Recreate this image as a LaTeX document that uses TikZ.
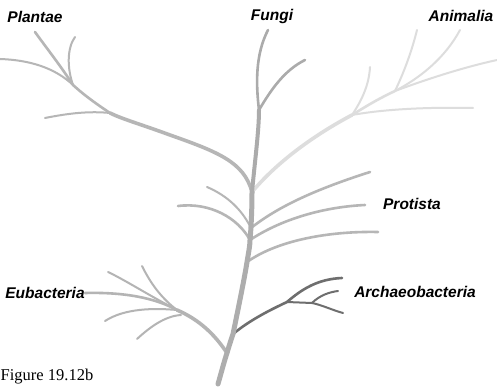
\documentclass[tikz,border=0pt]{standalone}
\usepackage{fontspec}
\newfontfamily\labfont{Liberation Sans}
\newfontfamily\capfont{Liberation Serif}
\begin{document}
\begin{tikzpicture}[x=1pt,y=-1pt,
  br/.style={line cap=round,line join=round},
  trunkc/.style={br,draw=trunkgray,line width=5pt},
  eubc/.style={br,draw=eubgray},
  protc/.style={br,draw=protgray},
  plantc/.style={br,draw=plantgray},
  fungc/.style={br,draw=funggray},
  animc/.style={br,draw=animgray},
  archc/.style={br,draw=archgray},
  kingdom/.style={font=\labfont\bfseries\itshape\fontsize{15.5}{18}\selectfont,inner sep=0pt},
  thick3/.style={line width=3.6pt},
  thick2/.style={line width=2.6pt},
  thin2/.style={line width=2pt}]
\definecolor{trunkgray}{HTML}{ADADAD}
\definecolor{eubgray}{HTML}{B4B4B4}
\definecolor{protgray}{HTML}{B6B6B6}
\definecolor{plantgray}{HTML}{B6B6B6}
\definecolor{funggray}{HTML}{ABABAB}
\definecolor{animgray}{HTML}{DDDDDD}
\definecolor{archgray}{HTML}{6E6E6E}
\useasboundingbox (0,0) rectangle (497,387);
\fill[white] (0,0) rectangle (497,387);
% coordinates
\coordinate (base) at (218,384);
\coordinate (ej) at (227,353);
\coordinate (aj) at (233,334);
\coordinate (pj3) at (247,262);
\coordinate (pj2) at (250,240);
\coordinate (pj1) at (251,228);
\coordinate (top) at (252,192);
\coordinate (fj) at (259,110);
\coordinate (ftip) at (268,30);
\coordinate (fside) at (305,60);
\coordinate (plj1) at (110,113);
\coordinate (plj2) at (73,85);
\coordinate (pltip1) at (35,32);
\coordinate (pltip2) at (75,37);
\coordinate (pltip3) at (0,59);
\coordinate (pltip4) at (45,118);
\coordinate (anj1) at (352,115);
\coordinate (anj2) at (395,91);
\coordinate (antip1) at (473,108);
\coordinate (antip2) at (370,67);
\coordinate (antip3) at (417,30);
\coordinate (antip4) at (460,30);
\coordinate (antip5) at (497,60);
\coordinate (prtip1) at (370,172);
\coordinate (prtip2) at (365,205);
\coordinate (prtip3) at (378,232);
\coordinate (prtipL1) at (207,187);
\coordinate (prtipL2) at (178,206);
\coordinate (eubj) at (177,310);
\coordinate (eubj2) at (181,315);
\coordinate (eubtip2) at (108,272);
\coordinate (eubtip3) at (142,266);
\coordinate (eubtip4) at (105,321);
\coordinate (eubtip5) at (137,339);
\coordinate (arj1) at (287,302);
\coordinate (arj2) at (312,303);
\coordinate (artip1) at (342,278);
\coordinate (artip2) at (338,291);
\coordinate (artip3) at (343,313);
% labels
\node[kingdom] (plantae) at (35,17) {Plantae};
\node[kingdom] (fungi) at (272,16) {Fungi};
\node[kingdom] (animalia) at (461,16) {Animalia};
\node[kingdom] (protista) at (412,204) {Protista};
\node[kingdom] (archaeo) at (415,292) {Archaeobacteria};
\node[kingdom] (eubacteria) at (45,293) {Eubacteria};
\node[font=\capfont\fontsize{16.5}{20}\selectfont,inner sep=0pt,anchor=base west] (figlabel) at (0.5,380) {Figure 19.12b};
% Animalia (light, behind)
\draw[animc,thick3] (top) .. controls (272,168) and (305,140) .. (anj1);
\draw[animc,thick2] (anj1) .. controls (368,105) and (380,98) .. (anj2);
\draw[animc,thin2] (anj1) .. controls (385,109) and (430,107) .. (antip1);
\draw[animc,thin2] (anj1) .. controls (362,100) and (369,85) .. (antip2);
\draw[animc,thin2] (anj2) .. controls (405,70) and (412,50) .. (antip3);
\draw[animc,thin2] (anj2) .. controls (420,78) and (445,58) .. (antip4);
\draw[animc,thin2] (anj2) .. controls (430,78) and (465,67) .. (antip5);
% Plantae
\draw[plantc,thick3] (top) .. controls (244,162) and (218,152) .. (170,135) .. controls (140,124) and (122,119) .. (plj1);
\draw[plantc,thick2] (plj1) .. controls (95,103) and (84,95) .. (plj2);
\draw[plantc,thin2] (plj1) .. controls (90,111) and (70,113) .. (pltip4);
\draw[plantc,thick2] (plj2) .. controls (60,65) and (48,50) .. (pltip1);
\draw[plantc,thin2] (plj2) .. controls (67,68) and (67,48) .. (pltip2);
\draw[plantc,thin2] (plj2) .. controls (55,68) and (30,60) .. (pltip3);
% Fungi
\draw[fungc,line width=4pt,br] (top) .. controls (255,160) and (259,130) .. (fj);
\draw[fungc,thick2] (fj) .. controls (256,85) and (255,55) .. (ftip);
\draw[fungc,thick2] (fj) .. controls (272,88) and (285,70) .. (fside);
% Protista
\draw[protc,thick2] (pj1) .. controls (280,205) and (320,188) .. (prtip1);
\draw[protc,thick2] (pj2) .. controls (280,220) and (322,207) .. (prtip2);
\draw[protc,thick2] (pj3) .. controls (278,240) and (330,231) .. (prtip3);
\draw[protc,thin2] (pj1) .. controls (242,210) and (228,196) .. (prtipL1);
\draw[protc,thick2] (pj2) .. controls (238,218) and (210,202) .. (prtipL2);
% Eubacteria
\draw[eubc,thick3] (ej) .. controls (215,335) and (200,320) .. (eubj);
\draw[eubc,thick2] (eubj) .. controls (155,298) and (125,292) .. (eubacteria.east);
\draw[eubc,thin2] (eubj) .. controls (150,296) and (125,280) .. (eubtip2);
\draw[eubc,thin2] (eubj) .. controls (160,297) and (150,282) .. (eubtip3);
\draw[eubc,thin2] (eubj) .. controls (155,308) and (125,308) .. (eubtip4);
\draw[eubc,thin2] (eubj2) .. controls (165,316) and (150,327) .. (eubtip5);
% Archaeobacteria
\draw[archc,thick2] (aj) .. controls (250,320) and (270,310) .. (arj1);
\draw[archc,thick2] (arj1) .. controls (302,289) and (318,279) .. (artip1);
\draw[archc,thin2] (arj1) -- (arj2);
\draw[archc,thin2] (arj2) .. controls (320,295) and (330,292) .. (artip2);
\draw[archc,thin2] (arj2) .. controls (322,305) and (332,310) .. (artip3);
% Trunk
\draw[trunkc] (base) .. controls (222,370) and (224,362) .. (ej) .. controls (229,346) and (231,340) .. (aj)
  .. controls (240,300) and (245,275) .. (pj3) .. controls (249,250) and (250,245) .. (pj2)
  .. controls (251,230) and (252,210) .. (top);
\end{tikzpicture}
\end{document}
